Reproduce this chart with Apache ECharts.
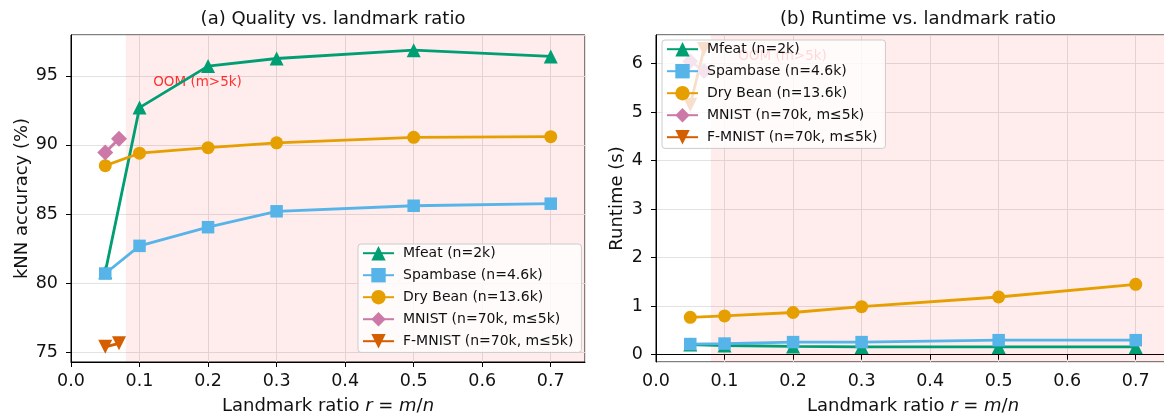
<!DOCTYPE html>
<html>
<head>
<meta charset="utf-8">
<script src="https://cdn.jsdelivr.net/npm/echarts@6/dist/echarts.min.js"></script>
<style>
  html, body { margin: 0; padding: 0; background: #fff; }
  #main { width: 1164px; height: 417px; }
</style>
</head>
<body>
<div id="main"></div>
<script>
// landmark ratios r = m/n
const ratios = [0.05, 0.1, 0.2, 0.3, 0.5, 0.7];
const ratiosBig = [0.05, 0.07];

// (a) kNN accuracy (%)
const accMfeat = [80.8, 92.7, 95.7, 96.25, 96.85, 96.4];
const accSpam = [80.7, 82.7, 84.05, 85.2, 85.6, 85.75];
const accBean = [88.5, 89.4, 89.8, 90.15, 90.55, 90.6];
const accMnist = [89.45, 90.45];
const accFmnist = [75.4, 75.65];

// (b) runtime (s)
const rtMfeat = [0.21, 0.19, 0.17, 0.16, 0.16, 0.16];
const rtSpam = [0.22, 0.23, 0.26, 0.26, 0.3, 0.3];
const rtBean = [0.77, 0.8, 0.87, 0.99, 1.19, 1.45];
const rtMnist = [6.05, 5.85];
const rtFmnist = [5.15, 6.3];

// OOM region + label
const oomFrom = 0.08;
const oomTo = 0.75;
const oomLabelA = [0.12, 94.5];
const oomLabelB = [0.12, 6.15];

const xTicks = [0, 0.1, 0.2, 0.3, 0.4, 0.5, 0.6, 0.7];

const names = ["Mfeat (n=2k)", "Spambase (n=4.6k)", "Dry Bean (n=13.6k)",
  "MNIST (n=70k, m≤5k)", "F-MNIST (n=70k, m≤5k)"];
const colors = ["#009E73", "#56B4E9", "#E69F00", "#CC79A7", "#D55E00"];
const symbols = ["triangle", "rect", "circle", "diamond", "triangle"];
const symSizes = [14, 12.5, 13, 16, 14];
const symRot = [0, 0, 0, 0, 180];

const font = "DejaVu Sans";
const txt = "#111";
const pair = (xs, ys) => xs.map((x, i) => [x, ys[i]]);

const chart = echarts.init(document.getElementById("main"), null, { renderer: "canvas" });

const mkSeries = (idx, xs, ys, k) => ({
  name: names[k],
  type: "line",
  xAxisIndex: idx,
  yAxisIndex: idx,
  data: pair(xs, ys),
  symbol: symbols[k],
  symbolSize: symSizes[k],
  symbolRotate: symRot[k],
  showAllSymbol: true,
  lineStyle: { color: colors[k], width: 2.8 },
  itemStyle: { color: colors[k] },
  z: 3,
  animation: false,
});

const oomSeries = (idx, pt) => ({
  type: "scatter",
  xAxisIndex: idx,
  yAxisIndex: idx,
  data: [pt],
  symbolSize: 0,
  silent: true,
  z: 1,
  label: {
    show: true,
    position: "right",
    distance: 0,
    formatter: "OOM (m>5k)",
    color: "#ff0000",
    fontFamily: font,
    fontSize: 13.5,
  },
  markArea: {
    silent: true,
    itemStyle: { color: "rgba(255, 0, 0, 0.075)" },
    data: [[{ xAxis: oomFrom }, { xAxis: oomTo }]],
  },
  animation: false,
});

const xAxisOpt = (idx) => ({
  type: "value",
  gridIndex: idx,
  min: 0,
  max: 0.75,
  interval: 0.1,
  name: "Landmark ratio {i|r} = {i|m}/{i|n}",
  nameLocation: "middle",
  nameGap: 35,
  nameTextStyle: {
    fontFamily: font, fontSize: 18, color: txt,
    rich: { i: { fontFamily: font, fontSize: 18, fontStyle: "italic", color: txt } },
  },
  axisLine: { show: true, lineStyle: { color: "#000", width: 1 } },
  axisTick: { show: true, length: 5, lineStyle: { color: "#000" } },
  axisLabel: {
    fontFamily: font, fontSize: 17.5, color: txt, margin: 10,
    showMaxLabel: false,
    formatter: (v) => (xTicks.some((t) => Math.abs(t - v) < 1e-9) ? v.toFixed(1) : ""),
  },
  splitLine: { show: true, lineStyle: { color: "#e2e2e2", width: 1 } },
});

const yAxisOpt = (idx, min, max, name, gap) => ({
  type: "value",
  gridIndex: idx,
  min: min,
  max: max,
  splitNumber: 5,
  name: name,
  nameLocation: "middle",
  nameGap: gap,
  nameTextStyle: { fontFamily: font, fontSize: 18, color: txt },
  axisLine: { show: true, lineStyle: { color: "#000", width: 1 } },
  axisTick: { show: true, length: 5, lineStyle: { color: "#000" } },
  axisLabel: {
    fontFamily: font, fontSize: 17.5, color: txt, margin: 13,
    showMinLabel: false, showMaxLabel: false,
  },
  splitLine: { show: true, lineStyle: { color: "#e2e2e2", width: 1 } },
});

const legendOpt = (pos) => Object.assign({
  orient: "vertical",
  data: names,
  itemWidth: 31,
  itemHeight: 18,
  itemGap: 7.6,
  padding: [2, 8, 4, 4],
  backgroundColor: "rgba(255,255,255,0.8)",
  borderColor: "#cccccc",
  borderWidth: 1,
  borderRadius: 3,
  selectedMode: false,
  textStyle: { fontFamily: font, fontSize: 14, color: txt, padding: [0, 0, 0, 4] },
}, pos);

const gridOpt = (left) => ({
  left: left, top: 35, width: 514, height: 327,
  outerBoundsMode: "none",
  containLabel: false,
  show: true, borderColor: "#000", borderWidth: 1, backgroundColor: "transparent",
});

const option = {
  animation: false,
  backgroundColor: "#fff",
  title: [
    {
      text: "(a) Quality vs. landmark ratio",
      left: 328, top: 5, textAlign: "center",
      textStyle: { fontFamily: font, fontSize: 18, fontWeight: "normal", color: txt },
    },
    {
      text: "(b) Runtime vs. landmark ratio",
      left: 913, top: 5, textAlign: "center",
      textStyle: { fontFamily: font, fontSize: 18, fontWeight: "normal", color: txt },
    },
  ],
  grid: [gridOpt(71), gridOpt(656)],
  legend: [
    legendOpt({ left: 358, top: 244 }),
    legendOpt({ left: 662, top: 40 }),
  ],
  xAxis: [xAxisOpt(0), xAxisOpt(1)],
  yAxis: [
    yAxisOpt(0, 74.3, 97.95, "kNN accuracy (%)", 40),
    yAxisOpt(1, -0.15, 6.59, "Runtime (s)", 30),
  ],
  series: [
    oomSeries(0, oomLabelA),
    mkSeries(0, ratios, accMfeat, 0),
    mkSeries(0, ratios, accSpam, 1),
    mkSeries(0, ratios, accBean, 2),
    mkSeries(0, ratiosBig, accMnist, 3),
    mkSeries(0, ratiosBig, accFmnist, 4),
    oomSeries(1, oomLabelB),
    mkSeries(1, ratios, rtMfeat, 0),
    mkSeries(1, ratios, rtSpam, 1),
    mkSeries(1, ratios, rtBean, 2),
    mkSeries(1, ratiosBig, rtMnist, 3),
    mkSeries(1, ratiosBig, rtFmnist, 4),
  ],
};

chart.setOption(option);
</script>
</body>
</html>
